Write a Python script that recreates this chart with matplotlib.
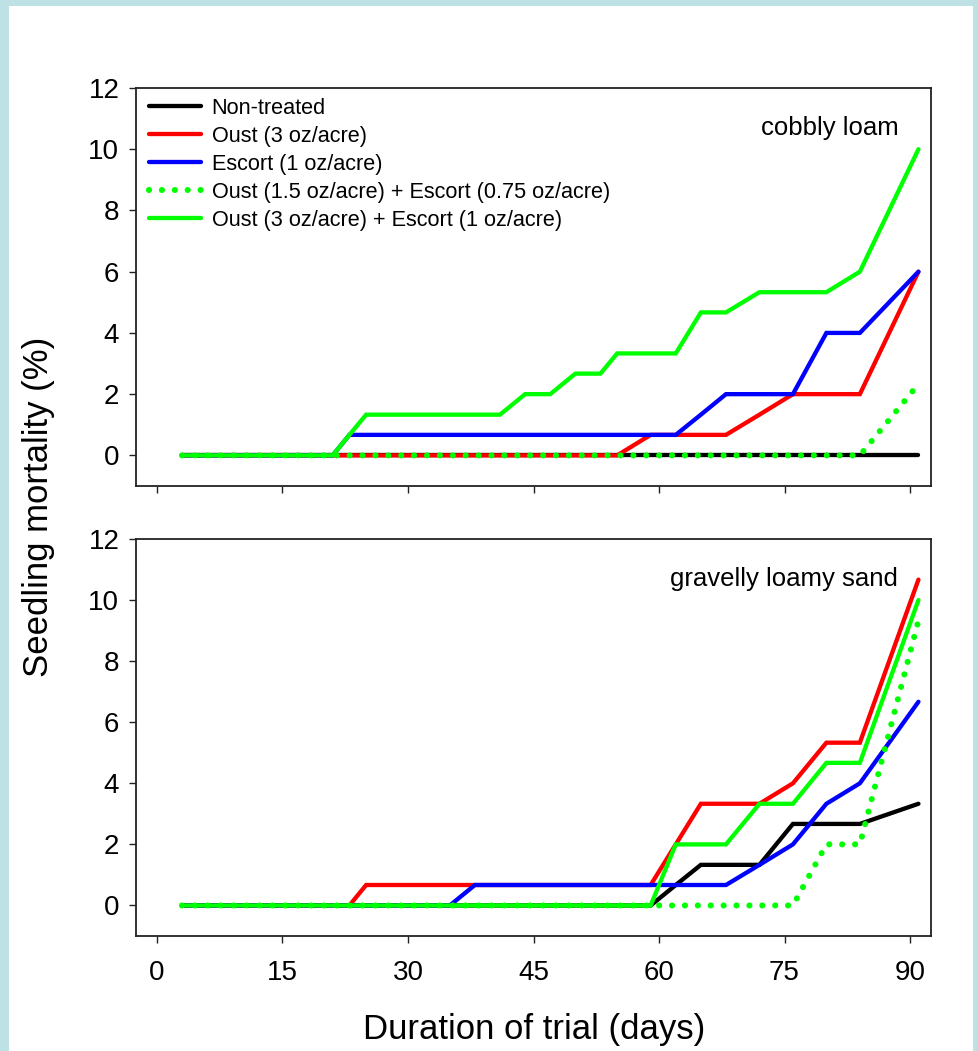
import matplotlib
matplotlib.use("Agg")
import matplotlib.pyplot as plt
from matplotlib.patches import Rectangle

plt.rcParams['font.family'] = ['Liberation Sans', 'DejaVu Sans']

days = [3, 7, 10, 14, 17, 21, 23, 25, 28, 31, 35, 38, 41, 44, 47, 50, 53, 55,
        59, 62, 65, 68, 72, 76, 80, 84, 91]

series_labels = ["Non-treated", "Oust (3 oz/acre)", "Escort (1 oz/acre)",
                 "Oust (1.5 oz/acre) + Escort (0.75 oz/acre)",
                 "Oust (3 oz/acre) + Escort (1 oz/acre)"]

# cobbly loam (top panel)
cl_nontreated = [0] * 27
cl_oust = [0] * 18 + [0.67, 0.67, 0.67, 0.67, 1.33, 2.0, 2.0, 2.0, 6.0]
cl_escort = [0] * 6 + [0.67] * 14 + [1.33, 2.0, 2.0, 2.0, 4.0, 4.0, 6.0]
cl_mix_low = [0] * 26 + [2.33]
cl_mix_high = ([0] * 6 + [0.67] + [1.33] * 6 + [2.0, 2.0, 2.67, 2.67, 3.33, 3.33, 3.33,
               4.67, 4.67, 5.33, 5.33, 5.33, 6.0, 10.0])

# gravelly loamy sand (bottom panel)
gl_nontreated = [0] * 19 + [0.67, 1.33, 1.33, 1.33, 2.67, 2.67, 2.67, 3.33]
gl_oust = [0] * 7 + [0.67] * 12 + [2.0, 3.33, 3.33, 3.33, 4.0, 5.33, 5.33, 10.67]
gl_escort = [0] * 11 + [0.67] * 11 + [1.33, 2.0, 3.33, 4.0, 6.67]
gl_mix_low = [0] * 24 + [2.0, 2.0, 9.33]
gl_mix_high = [0] * 19 + [2.0, 2.0, 2.0, 3.33, 3.33, 4.67, 4.67, 10.0]

panel_names = ["cobbly loam", "gravelly loamy sand"]
xticks = [0, 15, 30, 45, 60, 75, 90]
yticks = [0, 2, 4, 6, 8, 10, 12]

colors = ["black", "#ff0000", "#0000ff", "#00ff00", "#00ff00"]

fig = plt.figure(figsize=(9.77, 10.51), dpi=100)
fig.patch.set_facecolor('#bde1e4')
fig.add_artist(Rectangle((9 / 977, 0), (973 - 9) / 977, 1 - 6 / 1051,
                         transform=fig.transFigure, facecolor='white',
                         edgecolor='none', zorder=-10))

ax_top = fig.add_axes([136 / 977, 1 - 486 / 1051, 795 / 977, 398 / 1051])
ax_bot = fig.add_axes([136 / 977, 1 - 936 / 1051, 795 / 977, 397 / 1051])

panels = [
    (ax_top, [cl_nontreated, cl_oust, cl_escort, cl_mix_low, cl_mix_high]),
    (ax_bot, [gl_nontreated, gl_oust, gl_escort, gl_mix_low, gl_mix_high]),
]

lw = 3.1
for i, (ax, data) in enumerate(panels):
    for j, vals in enumerate(data):
        if j == 3:
            ax.plot(days, vals, color=colors[j], lw=4.4,
                    linestyle=(0, (0.01, 2.1)), dash_capstyle='round',
                    label=series_labels[j])
        else:
            ax.plot(days, vals, color=colors[j], lw=lw,
                    solid_capstyle='round', solid_joinstyle='miter',
                    label=series_labels[j])
    ax.set_xlim(-2.5, 92.5)
    ax.set_ylim(-1, 12)
    ax.set_xticks(xticks)
    ax.set_yticks(yticks)
    ax.tick_params(direction='out', length=5, width=1.0, labelsize=20,
                   color='#222222')
    ax.tick_params(axis='x', pad=12)
    ax.tick_params(axis='y', pad=7)
    for sp in ax.spines.values():
        sp.set_linewidth(1.3)
        sp.set_color('#222222')
    ax.text(88.6, 10.7, panel_names[i], ha='right', va='center', fontsize=18.5)

ax_top.tick_params(axis='x', labelbottom=False)

ax_top.legend(loc='upper left', bbox_to_anchor=(0.016, 0.975), frameon=False,
              fontsize=15.6, handlelength=2.4, handletextpad=0.5,
              labelspacing=0.32, borderaxespad=0, borderpad=0)

fig.text(0.039, 0.5176, "Seedling mortality (%)", rotation=90,
         ha='center', va='center', fontsize=25)
fig.text(0.547, 0.02, "Duration of trial (days)", ha='center', va='center',
         fontsize=25)

fig.savefig("out.png", dpi=100, facecolor=fig.get_facecolor())
